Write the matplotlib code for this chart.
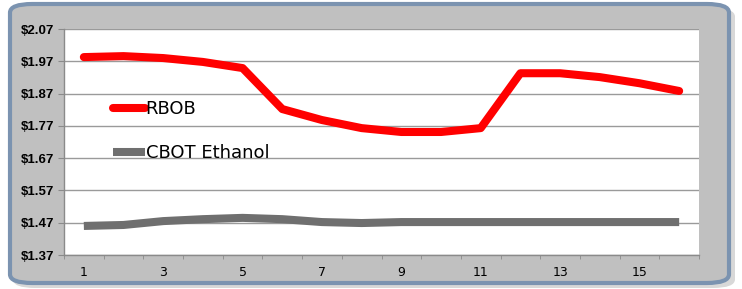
import matplotlib

matplotlib.use("Agg")
import matplotlib.pyplot as plt  # noqa: E402
from matplotlib.patches import FancyBboxPatch  # noqa: E402

# --- data ---
days = list(range(1, 17))
rbob = [1.983, 1.986, 1.980, 1.968, 1.949, 1.822, 1.788, 1.763,
        1.751, 1.751, 1.763, 1.933, 1.933, 1.921, 1.902, 1.878]
ethanol = [1.460, 1.463, 1.475, 1.481, 1.485, 1.481, 1.472, 1.469,
           1.472, 1.472, 1.472, 1.472, 1.472, 1.472, 1.472, 1.472]
y_ticks = [1.37, 1.47, 1.57, 1.67, 1.77, 1.87, 1.97, 2.07]
x_labels = [1, 3, 5, 7, 9, 11, 13, 15]

W, H = 742, 289
fig = plt.figure(figsize=(W / 100, H / 100), dpi=100)
fig.patch.set_facecolor("white")

# rounded grey frame with blue-ish border (Excel chart area look)
shadow = FancyBboxPatch((13 / W, 1 / H), 722 / W, 280 / H,
                        boxstyle="round,pad=0,rounding_size=0.03",
                        transform=fig.transFigure, facecolor="#d8d8d8",
                        edgecolor="none", zorder=0)
frame = FancyBboxPatch((10 / W, 6 / H), 719 / W, 279 / H,
                       boxstyle="round,pad=0,rounding_size=0.03",
                       transform=fig.transFigure, facecolor="#c0c0c0",
                       edgecolor="#7b93b0", linewidth=3, zorder=1)
fig.patches.extend([shadow, frame])

ax = fig.add_axes([64 / W, 34 / H, 635 / W, 226 / H])
ax.set_zorder(2)
ax.set_facecolor("white")

ax.plot(days, rbob, color="#ff0000", lw=5.8, solid_capstyle="round",
        solid_joinstyle="round", label="RBOB", zorder=3)
ax.plot(days, ethanol, color="#6f6f6f", lw=5.8, solid_capstyle="butt",
        solid_joinstyle="round", label="CBOT Ethanol", zorder=3)

ax.set_xlim(0.5, 16.5)
ax.set_ylim(y_ticks[0], y_ticks[-1])
ax.set_yticks(y_ticks)
ax.set_yticklabels([f"${v:.2f}" for v in y_ticks], fontsize=9.5,
                   fontweight="bold", family="Liberation Sans")
ax.yaxis.grid(True, color="#9a9a9a", lw=1)
ax.set_axisbelow(True)

ax.set_xticks(x_labels)
ax.set_xticklabels([str(v) for v in x_labels], fontsize=9, family="DejaVu Sans")
ax.set_xticks([d + 0.5 for d in [0] + days], minor=True)
ax.tick_params(axis="x", which="major", length=0, pad=8)
ax.tick_params(axis="x", which="minor", length=3, color="#8a8a8a")
ax.tick_params(axis="y", length=4, color="#8a8a8a", pad=3)

for side in ("top", "right"):
    ax.spines[side].set_visible(False)
for side in ("left", "bottom"):
    ax.spines[side].set_color("#8a8a8a")
    ax.spines[side].set_linewidth(1)

ax.legend(loc="upper left", bbox_to_anchor=(113 / W, 1 - 100 / H),
          bbox_transform=fig.transFigure, frameon=False, fontsize=13,
          handlelength=1.75, handletextpad=0.05, labelspacing=1.45,
          borderpad=0, borderaxespad=0)

fig.savefig("out.png", dpi=100, facecolor=fig.get_facecolor())
